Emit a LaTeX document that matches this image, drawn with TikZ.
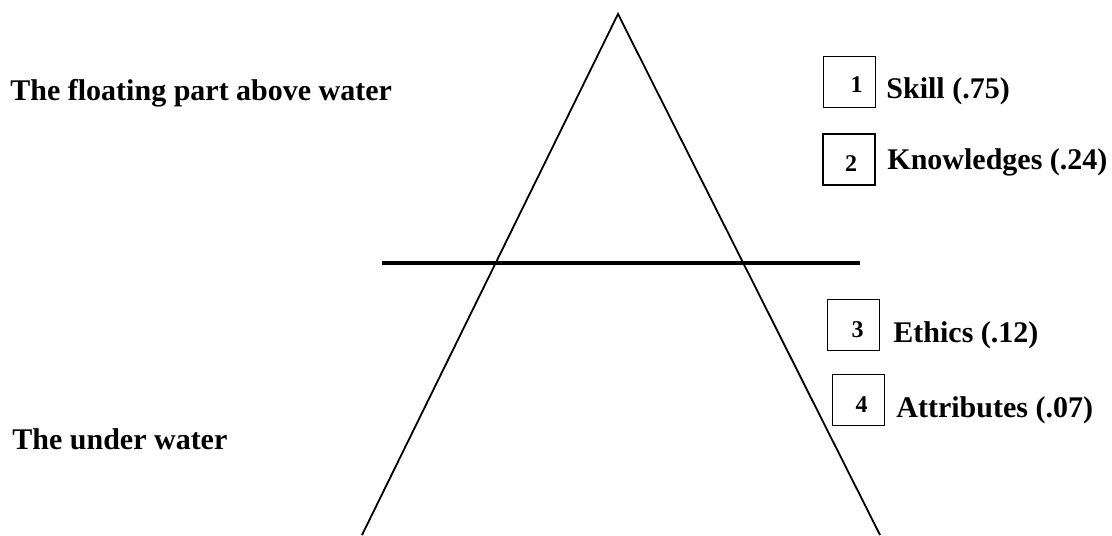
\documentclass[tikz,border=0pt]{standalone}
\usepackage{fontspec}
\setmainfont{Liberation Serif}
\usepackage{tikz}
\usetikzlibrary{positioning}

\begin{document}
\begin{tikzpicture}[
  x=0.5pt, y=-0.5pt,
  font=\fontsize{15}{18}\selectfont\bfseries,
  numbox/.style={
    draw=black,
    line width=0.9pt,
    minimum width=26pt,
    minimum height=25.5pt,
    inner sep=0pt,
  },
  numtxt/.style={font=\fontsize{12}{14}\selectfont\bfseries, inner sep=0pt},
  item/.style={anchor=base west, inner sep=0pt},
  zone/.style={anchor=base west, inner sep=0pt},
  leg/.style={line width=0.9pt},
  water/.style={line width=1.7pt},
]
  \useasboundingbox (0,0) rectangle (1112,535);

  % -------- iceberg --------
  \coordinate (apex) at (618,14);
  \coordinate (footL) at (362,535);
  \coordinate (footR) at (880,535);
  \draw[leg] (footL) -- (apex) -- (footR);

  % -------- water line --------
  \coordinate (wL) at (382,263);
  \coordinate (wR) at (860,263);
  \draw[water] (wL) -- (wR);

  % -------- zone labels --------
  \node[zone] (Z1) at (10,101) {The floating part above water};
  \node[zone] (Z2) at (12,449) {The under water};

  % -------- numbered boxes --------
  \node[numbox] (B1) at (849.5,82) {};
  \node[numbox] (B2) at (849,159.5) {};
  \node[numbox] (B3) at (853.5,325) {};
  \node[numbox] (B4) at (858.5,400) {};

  \node[numtxt] (T1) at ([shift={(7,3)}]B1.center) {1};
  \node[numtxt] (T2) at ([shift={(2,4)}]B2.center) {2};
  \node[numtxt] (T3) at ([shift={(4,5)}]B3.center) {3};
  \node[numtxt] (T4) at ([shift={(3,5)}]B4.center) {4};

  % -------- item labels --------
  \node[item] (L1) at (886,98) {Skill (.75)};
  \node[item] (L2) at (887,169) {Knowledges (.24)};
  \node[item] (L3) at (893,342) {Ethics (.12)};
  \node[item] (L4) at (896,417) {Attributes (.07)};
\end{tikzpicture}
\end{document}
